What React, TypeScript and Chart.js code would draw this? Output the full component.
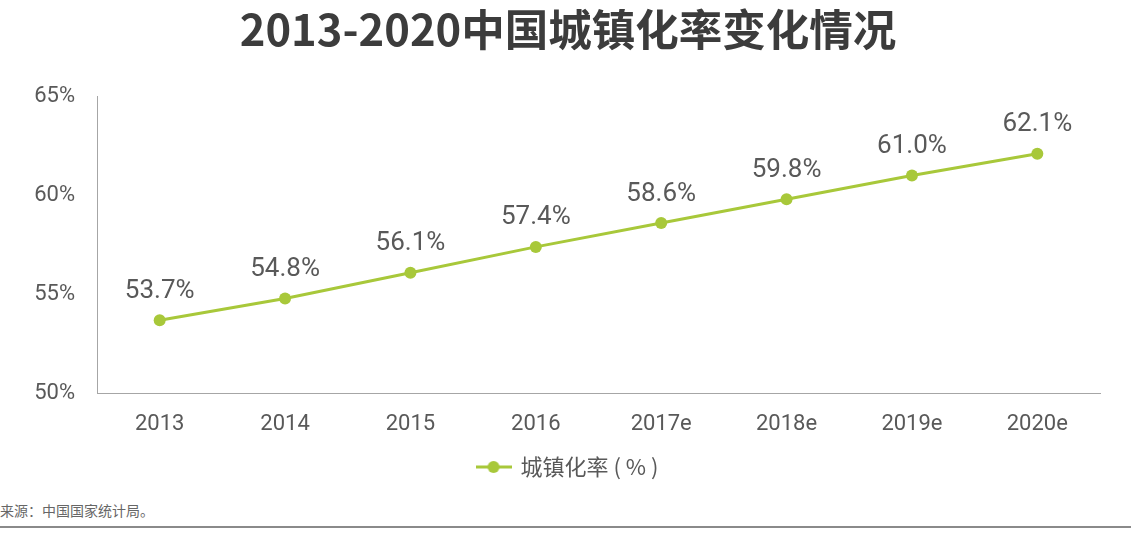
import React, { useEffect, useRef } from "react";
import { Chart, registerables } from "chart.js";

Chart.register(...registerables);

const titleText = "2013-2020中国城镇化率变化情况";
const categories = ["2013", "2014", "2015", "2016", "2017e", "2018e", "2019e", "2020e"];
const urbanRate = [53.7, 54.8, 56.1, 57.4, 58.6, 59.8, 61.0, 62.1];
const seriesName = "城镇化率 ( % )";
const yTicks = [50, 55, 60, 65];
const sourceText = "来源：中国国家统计局。";

const GREEN = "#a8c83a";
const TEXT = "#595959";

function makeLegendIcon(): HTMLCanvasElement {
  const c = document.createElement("canvas");
  c.width = 36;
  c.height = 14;
  const ctx = c.getContext("2d")!;
  ctx.strokeStyle = GREEN;
  ctx.lineWidth = 3;
  ctx.beginPath();
  ctx.moveTo(0, 7);
  ctx.lineTo(36, 7);
  ctx.stroke();
  ctx.fillStyle = GREEN;
  ctx.beginPath();
  ctx.arc(18, 7, 6, 0, Math.PI * 2);
  ctx.fill();
  return c;
}

const dataLabels = {
  id: "dataLabels",
  afterDatasetsDraw(chart: any) {
    const ctx = chart.ctx;
    const meta = chart.getDatasetMeta(0);
    const ds = chart.data.datasets[0];
    ctx.save();
    ctx.font = "26px Roboto";
    ctx.fillStyle = TEXT;
    ctx.textAlign = "center";
    ctx.textBaseline = "middle";
    meta.data.forEach((pt: any, i: number) => {
      ctx.fillText(Number(ds.data[i]).toFixed(1) + "%", pt.x, pt.y - 29);
    });
    ctx.restore();
  },
};

export default function App() {
  const ref = useRef<HTMLCanvasElement>(null);

  useEffect(() => {
    if (!ref.current) return;
    const icon = makeLegendIcon();
    const chart = new Chart(ref.current, {
      type: "line",
      data: {
        labels: categories,
        datasets: [
          {
            label: seriesName,
            data: urbanRate,
            borderColor: GREEN,
            backgroundColor: GREEN,
            borderWidth: 3,
            pointRadius: 6,
            pointBackgroundColor: GREEN,
            pointBorderColor: GREEN,
            pointBorderWidth: 0,
            tension: 0,
            yAxisID: "y",
          },
        ],
      },
      options: {
        animation: false,
        responsive: true,
        maintainAspectRatio: false,
        layout: { padding: { left: 0, right: 0, top: 0, bottom: 2 } },
        plugins: {
          title: {
            display: true,
            text: titleText,
            color: "#3c3c3c",
            font: { family: "'Noto Sans CJK SC'", size: 43.5, weight: "bold" },
            padding: { top: 3, bottom: 41 },
          },
          legend: {
            display: true,
            position: "bottom",
            labels: {
              usePointStyle: true,
              pointStyleWidth: 32,
              padding: 0,
              color: TEXT,
              font: { family: "'Noto Sans CJK SC'", size: 22 },
              generateLabels: (ch: any) =>
                ch.data.datasets.map((d: any, i: number) => ({
                  text: d.label,
                  pointStyle: icon,
                  fillStyle: GREEN,
                  strokeStyle: GREEN,
                  lineWidth: 0,
                  fontColor: TEXT,
                  datasetIndex: i,
                  hidden: false,
                })),
            },
          },
          tooltip: { enabled: false },
        },
        scales: {
          x: {
            offset: true,
            grid: { display: false, drawTicks: false },
            border: { display: true, color: "#a6a6a6", width: 1 },
            ticks: {
              padding: 18,
              color: TEXT,
              font: { family: "Roboto", size: 22 },
            },
          },
          y: {
            min: 50,
            max: 65,
            afterBuildTicks: (scale: any) => {
              scale.ticks = yTicks.map((v) => ({ value: v }));
            },
            afterFit: (scale: any) => {
              scale.width = 97;
            },
            grid: { display: false, drawTicks: false },
            border: { display: true, color: "#a6a6a6", width: 1 },
            ticks: {
              padding: 22,
              color: TEXT,
              font: { family: "Roboto", size: 22 },
              callback: (v: any) => v + "%",
            },
          },
          yRight: {
            position: "right",
            min: 50,
            max: 65,
            display: true,
            grid: { display: false, drawTicks: false },
            border: { display: false },
            ticks: { display: false },
            afterFit: (scale: any) => {
              scale.width = 36;
            },
          },
        },
      },
      plugins: [dataLabels],
    });
    return () => chart.destroy();
  }, []);

  return (
    <div
      style={{
        position: "fixed",
        left: 0,
        top: 0,
        width: 1136,
        height: 536,
        background: "#fff",
        overflow: "hidden",
      }}
    >
      <div style={{ position: "absolute", left: 0, top: 0, width: 1136, height: 490 }}>
        <canvas ref={ref} />
      </div>
      <div
        style={{
          position: "absolute",
          left: 0,
          top: 500,
          fontFamily: "'Noto Sans CJK SC'",
          fontSize: 14,
          color: "#666",
          lineHeight: "20px",
          whiteSpace: "nowrap",
        }}
      >
        {sourceText}
      </div>
      <div
        style={{
          position: "absolute",
          left: 0,
          top: 526,
          width: 1131,
          height: 2,
          background: "#8a8a8a",
        }}
      />
    </div>
  );
}
